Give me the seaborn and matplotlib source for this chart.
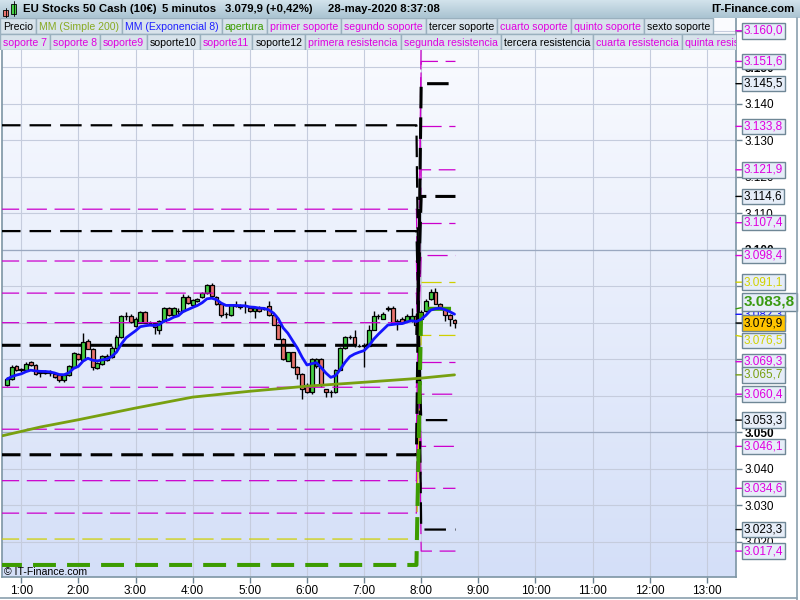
import numpy as np
import pandas as pd
import matplotlib
matplotlib.use("Agg")
import matplotlib.pyplot as plt
import matplotlib.patches as mpatches
from matplotlib.lines import Line2D
from matplotlib.colors import LinearSegmentedColormap
import seaborn as sns

# ==========================================================
# Data (5 minute candles, 00:45 -> 08:35)
# ==========================================================
opens = [3062.9, 3064.5, 3068.0, 3067.2, 3066.9, 3069.1, 3068.4, 3066.5, 3066.3, 3066.5,
         3066.0, 3065.6, 3064.2, 3065.6, 3067.8, 3071.5, 3069.8, 3075.1, 3072.9, 3067.7,
         3068.7, 3069.8, 3070.6, 3073.1, 3076.1, 3081.8, 3081.8, 3079.2, 3080.0, 3082.9,
         3080.0, 3080.0, 3078.1, 3080.4, 3083.9, 3082.0, 3083.2, 3083.1, 3087.1, 3084.9,
         3086.0, 3087.1, 3088.1, 3090.3, 3087.1, 3085.0, 3082.4, 3082.0, 3084.8, 3084.5,
         3084.6, 3083.9, 3083.2, 3083.9, 3083.8, 3084.7, 3082.0, 3079.5, 3075.6, 3069.6,
         3071.9, 3067.8, 3065.9, 3062.9, 3060.9, 3068.0, 3070.0, 3061.7, 3060.9, 3060.9,
         3067.1, 3073.1, 3076.0, 3076.0, 3073.7, 3073.7, 3073.7, 3078.1, 3081.8, 3081.1,
         3083.9, 3083.9, 3080.4, 3081.1, 3080.5, 3080.5, 3081.8, 3081.0, 3083.2, 3086.4,
         3088.3, 3085.2, 3083.7, 3082.2, 3080.6]
highs = [3065.2, 3068.5, 3068.3, 3067.5, 3069.1, 3069.5, 3068.7, 3067.1, 3066.9, 3067.1,
         3066.3, 3065.8, 3066.0, 3068.5, 3072.0, 3071.8, 3077.2, 3075.5, 3073.1, 3069.1,
         3071.1, 3071.3, 3073.5, 3076.5, 3082.1, 3082.9, 3082.3, 3081.5, 3083.1, 3083.1,
         3080.5, 3080.3, 3080.7, 3084.2, 3084.2, 3084.2, 3084.0, 3087.8, 3087.5, 3086.5,
         3086.9, 3088.5, 3090.5, 3091.0, 3087.3, 3085.2, 3083.0, 3085.1, 3085.9, 3085.0,
         3086.0, 3084.2, 3084.2, 3084.5, 3084.2, 3086.0, 3082.2, 3079.7, 3075.8, 3072.1,
         3072.1, 3068.0, 3066.1, 3063.5, 3070.3, 3070.3, 3070.3, 3061.9, 3061.5, 3067.3,
         3073.3, 3076.3, 3076.5, 3078.1, 3074.1, 3074.3, 3079.5, 3083.3, 3082.5, 3083.0,
         3084.7, 3084.7, 3080.9, 3081.5, 3082.5, 3084.0, 3082.5, 3083.5, 3086.5, 3089.2,
         3089.5, 3085.5, 3084.0, 3082.5, 3081.0]
lows = [3062.7, 3064.3, 3066.8, 3066.5, 3066.7, 3068.1, 3065.7, 3065.0, 3066.0, 3065.4,
        3064.9, 3063.8, 3063.7, 3065.4, 3067.5, 3069.7, 3069.5, 3072.7, 3067.1, 3067.3,
        3068.5, 3069.5, 3070.3, 3072.9, 3075.9, 3080.7, 3079.9, 3078.9, 3079.8, 3079.8,
        3079.3, 3077.0, 3077.0, 3080.2, 3081.8, 3081.8, 3082.5, 3082.9, 3085.2, 3084.7,
        3085.8, 3086.9, 3087.9, 3087.1, 3084.8, 3081.5, 3081.3, 3081.8, 3084.2, 3083.8,
        3082.7, 3082.9, 3081.3, 3082.9, 3083.4, 3081.8, 3079.3, 3075.4, 3069.8, 3069.4,
        3067.6, 3064.5, 3059.0, 3060.7, 3060.5, 3067.7, 3062.5, 3059.7, 3059.7, 3060.7,
        3066.9, 3072.9, 3075.5, 3073.3, 3073.3, 3067.8, 3073.5, 3077.9, 3081.0, 3080.9,
        3083.3, 3079.8, 3078.1, 3079.8, 3080.3, 3080.3, 3077.5, 3079.5, 3083.0, 3086.2,
        3085.0, 3084.0, 3080.5, 3079.0, 3078.6]
closes = [3064.5, 3067.8, 3067.1, 3067.1, 3068.7, 3068.4, 3066.0, 3066.3, 3066.5, 3066.1,
          3065.2, 3064.3, 3065.6, 3068.0, 3071.7, 3070.0, 3074.6, 3072.9, 3067.8, 3068.9,
          3070.8, 3070.9, 3073.1, 3076.1, 3081.8, 3081.9, 3080.2, 3081.1, 3082.9, 3080.0,
          3079.9, 3078.9, 3080.4, 3083.9, 3082.0, 3083.9, 3083.3, 3087.1, 3085.5, 3086.2,
          3086.6, 3088.1, 3090.3, 3087.3, 3085.0, 3082.0, 3082.5, 3084.8, 3084.7, 3084.4,
          3084.5, 3083.2, 3083.9, 3083.2, 3083.7, 3082.0, 3079.5, 3075.6, 3070.0, 3071.9,
          3067.8, 3065.9, 3061.7, 3061.1, 3070.0, 3070.0, 3062.9, 3061.0, 3060.9, 3067.1,
          3073.1, 3076.0, 3076.1, 3074.0, 3073.7, 3073.8, 3078.1, 3081.8, 3081.7, 3082.5,
          3083.8, 3080.0, 3080.3, 3080.0, 3081.8, 3081.8, 3079.5, 3083.0, 3086.0, 3088.3,
          3085.2, 3084.4, 3082.2, 3081.1, 3079.9]

# MM (Simple 200)
sma_times = ["00:40", "01:20", "02:00", "03:00", "04:00", "05:00", "06:00", "06:45", "07:50", "08:00", "08:35"]
sma_values = [3049.0, 3051.4, 3053.4, 3056.6, 3059.6, 3061.2, 3062.6, 3063.4, 3064.6, 3064.8, 3065.7]

# support / resistance levels: previous session -> today (from 08:00)
black_old = [3134.1, 3105.1, 3073.8, 3043.8]
black_new = [3023.3, 3053.3, 3114.6, 3145.5]
magenta_old = [3111.1, 3096.9, 3088.1, 3080.0, 3062.3, 3050.8, 3036.7, 3027.8]
magenta_new = [3017.4, 3034.6, 3046.1, 3060.4, 3098.4, 3121.9, 3151.6, 3160.0]
magenta_today_only = [3133.8, 3107.4, 3069.3]
yellow_old = [3020.7]
yellow_new = [3076.5]
yellow_today_only = [3091.1]
apertura_old = 3013.6
apertura_new = 3083.8

legend_row1 = ["Precio", "MM (Simple 200)", "MM (Exponencial 8)", "apertura", "primer soporte",
               "segundo soporte", "tercer soporte", "cuarto soporte", "quinto soporte", "sexto soporte"]
legend_row2 = ["soporte 7", "soporte 8", "soporte9", "soporte10", "soporte11", "soporte12",
               "primera resistencia", "segunda resistencia", "tercera resistencia",
               "cuarta resistencia", "quinta resistencia"]

# ==========================================================
# Style
# ==========================================================
sns.set_theme(style="white")
plt.rcParams['font.family'] = ['Liberation Sans', 'DejaVu Sans']
plt.rcParams['lines.scale_dashes'] = False

GREEN_C = "#44d044"
RED_C = "#e8736e"
MAGENTA = "#cc00cc"
MAGENTA_T = "#e000e0"
YELLOW = "#cfcf00"
APERT = "#3c9c00"
OLIVE = "#78a010"
BLUE = "#1414ff"
legend_colors = {"Precio": "black", "MM (Simple 200)": "#88aa22", "MM (Exponencial 8)": "#2020ff",
                 "apertura": "#3c9c00", "tercer soporte": "black", "sexto soporte": "black",
                 "soporte10": "black", "soporte12": "black", "tercera resistencia": "black"}

times = pd.date_range("2020-05-28 00:45", periods=len(closes), freq="5min")
hours = ((times - times.normalize()) / pd.Timedelta(hours=1)).to_numpy()
df = pd.DataFrame({"hour": hours, "open": opens, "high": highs, "low": lows, "close": closes})
df["ema8"] = df["close"].ewm(span=8, adjust=False).mean()

sma = pd.DataFrame({"t": pd.to_timedelta([s + ":00" for s in sma_times]), "value": sma_values})
sma["hour"] = sma["t"] / pd.Timedelta(hours=1)

W, H = 800, 600
def px_rect(x0, y0, x1, y1):
    return [x0 / W, 1 - y1 / H, (x1 - x0) / W, (y1 - y0) / H]

fig = plt.figure(figsize=(8, 6), dpi=100, facecolor="white")
ax = fig.add_axes(px_rect(2, 18, 736, 577))
ax.set_facecolor("none")

grad = np.linspace(0, 1, 256).reshape(-1, 1)
bg_cmap = LinearSegmentedColormap.from_list("bg", ["#fbfcff", "#d4dff8"])
ax.imshow(grad, cmap=bg_cmap, aspect="auto", extent=[0, 1, 0, 1], transform=ax.transAxes, zorder=0)

# candles
up = df["close"] >= df["open"]
body_bottom = df[["open", "close"]].min(axis=1)
body_h = (df["close"] - df["open"]).abs()
ax.vlines(df["hour"], df["low"], df["high"], color="black", lw=1, zorder=3)
ax.bar(df["hour"], body_h, bottom=body_bottom, width=0.068,
       color=np.where(up, GREEN_C, RED_C), edgecolor="black", linewidth=0.9, zorder=4)

# level lines
t_left, t_pre, t_open, t_end = 0.5, 7 + 55 / 60, 8.0, 8 + 36 / 60
def level_line(old, new, color, lw, dashes):
    if old is None:
        xs, ys = [t_open, t_end], [new, new]
    else:
        xs, ys = [t_left, t_pre, t_open, t_end], [old, old, new, new]
    ax.plot(xs, ys, color=color, lw=lw, dashes=dashes, zorder=5,
            dash_capstyle="butt", solid_joinstyle="miter")

for old, new in zip(magenta_old, magenta_new):
    level_line(old, new, MAGENTA, 0.9, (14.5, 5.5))
for v in magenta_today_only:
    level_line(None, v, MAGENTA, 0.9, (14.5, 5.5))
for old, new in zip(yellow_old, yellow_new):
    level_line(old, new, YELLOW, 0.9, (14.5, 5.5))
for v in yellow_today_only:
    level_line(None, v, YELLOW, 0.9, (14.5, 5.5))
for i, (old, new) in enumerate(zip(black_old, black_new)):
    level_line(old, new, "black", 1.6 if i < 2 else 2.2, (15.5, 6.5))
level_line(apertura_old, apertura_new, APERT, 2.9, (16.5, 8))

# moving averages
sns.lineplot(data=sma, x="hour", y="value", ax=ax, color=OLIVE, lw=2, estimator=None,
             sort=False, legend=False, zorder=6)
sns.lineplot(data=df, x="hour", y="ema8", ax=ax, color=BLUE, lw=2, estimator=None,
             sort=False, legend=False, zorder=7)

# axes
ax.set_xlim(0.663, 13.51)
ax.set_ylim(3010.3, 3163.5)
ax.set_xlabel("")
ax.set_ylabel("")
yt = list(range(3020, 3161, 10))
ax.set_yticks(yt)
ax.set_yticklabels([f"{v // 1000}.{v % 1000:03d}" for v in yt])
ax.set_xticks(range(1, 14))
ax.set_xticklabels([f"{h}:00" for h in range(1, 14)])
ax.yaxis.tick_right()
ax.tick_params(axis="y", right=True, left=False, direction="out", length=4, width=1,
               color="#6b8190", labelcolor="black", labelsize=8.5, pad=2)
ax.tick_params(axis="x", bottom=True, direction="out", length=4, width=1,
               color="#6b8190", labelcolor="black", labelsize=8.5, pad=2)
for lab, v in zip(ax.get_yticklabels(), yt):
    if v % 50 == 0:
        lab.set_fontweight("bold")
ax.grid(True, color="#c5ccdd", lw=0.8)
ax.set_axisbelow(True)
for v in (3050, 3100):
    ax.axhline(v, color="#9aa8c0", lw=0.9, zorder=1)
for name, s in ax.spines.items():
    s.set_color("#7d95a4")
    s.set_linewidth(1.2)
ax.spines["top"].set_visible(False)

ax.text(0.003, 0.0, "© IT-Finance.com", transform=ax.transAxes, fontsize=7.6,
        color="black", ha="left", va="bottom", zorder=9)

# price tags on the right (dy in pixels: the tag is nudged when tags collide)
def price_tag(v, tcolor, fc="#e6edf8", size=8.5, weight="normal", line_color=None, dy=0):
    txt = f"{v:,.1f}".replace(",", "X").replace(".", ",").replace("X", ".")
    ax.annotate(txt, xy=(1, v), xycoords=("axes fraction", "data"), xytext=(8, dy),
                textcoords="offset pixels", ha="left", va="center", fontsize=size,
                color=tcolor, fontweight=weight,
                bbox=dict(boxstyle="square,pad=0.15", fc=fc, ec="#6f8796", lw=1),
                arrowprops=dict(arrowstyle="-", color=line_color or tcolor, lw=1,
                                shrinkA=0, shrinkB=0),
                annotation_clip=False, zorder=20)

for v in magenta_new + magenta_today_only:
    price_tag(v, MAGENTA_T)
for v in black_new:
    price_tag(v, "black")
price_tag(yellow_today_only[0], "#d2d200")
price_tag(yellow_new[0], "#d2d200", dy=-5)
price_tag(sma_values[-1], OLIVE)
price_tag(round(df["ema8"].iloc[-1], 1), BLUE)
price_tag(apertura_new, "#3a9a10", size=11, weight="bold", dy=7)
price_tag(closes[-1], "black", fc="#ffc400", line_color="black")

# legend rows
renderer = fig.canvas.get_renderer()
ax_leg = fig.add_axes(px_rect(0, 18, 736, 50))
ax_leg.set_xlim(0, 736)
ax_leg.set_ylim(50, 18)
ax_leg.axis("off")

def legend_row(labels, y0, y1):
    x = 0
    for label in labels:
        color = legend_colors.get(label, MAGENTA_T)
        t = ax_leg.text(x + 3, (y0 + y1) / 2 + 0.5, label, color=color, fontsize=7.6,
                        va="center", ha="left", zorder=3, clip_on=True)
        w = t.get_window_extent(renderer).width
        ax_leg.add_patch(mpatches.Rectangle((x, y0), w + 6, y1 - y0, fc="#d8e3eb",
                                            ec="#9ab0be", lw=1, zorder=2, clip_on=True))
        x += w + 6

legend_row(legend_row1, 18, 34)
legend_row(legend_row2, 34, 50)

# header bar
ax_head = fig.add_axes(px_rect(0, 0, 800, 18))
ax_head.set_xlim(0, 800)
ax_head.set_ylim(18, 0)
ax_head.axis("off")
head_cmap = LinearSegmentedColormap.from_list("head", ["#d3e3ec", "#a9c3d1"])
ax_head.imshow(grad, cmap=head_cmap, aspect="auto", extent=[0, 800, 18, 0])
ax_head.add_patch(mpatches.Rectangle((3, 10), 5, 6, fc=RED_C, ec="black", lw=0.6))
ax_head.add_patch(mpatches.Rectangle((11, 4), 5, 10, fc=GREEN_C, ec="black", lw=0.6))
ax_head.plot([5.5, 5.5], [8, 18], color="black", lw=0.6)
ax_head.plot([13.5, 13.5], [1, 16], color="black", lw=0.6)
head_font = dict(fontsize=8.2, fontweight="bold", va="center", color="black")
ax_head.text(23, 9.5, "EU Stocks 50 Cash (10€)", ha="left", **head_font)
ax_head.text(162, 9.5, "5 minutos", ha="left", **head_font)
ax_head.text(225, 9.5, "3.079,9 (+0,42%)", ha="left", **head_font)
ax_head.text(328, 9.5, "28-may-2020 8:37:08", ha="left", **head_font)
ax_head.text(794, 9.5, "IT-Finance.com", ha="right", **head_font)

fig.add_artist(Line2D([797 / W, 797 / W], [0, 1 - 18 / H], color="#8aa0ae", lw=1.2))
fig.add_artist(Line2D([0, 797 / W], [2 / H, 2 / H], color="#8aa0ae", lw=1.2))

fig.savefig("out.png", dpi=100, facecolor="white")
